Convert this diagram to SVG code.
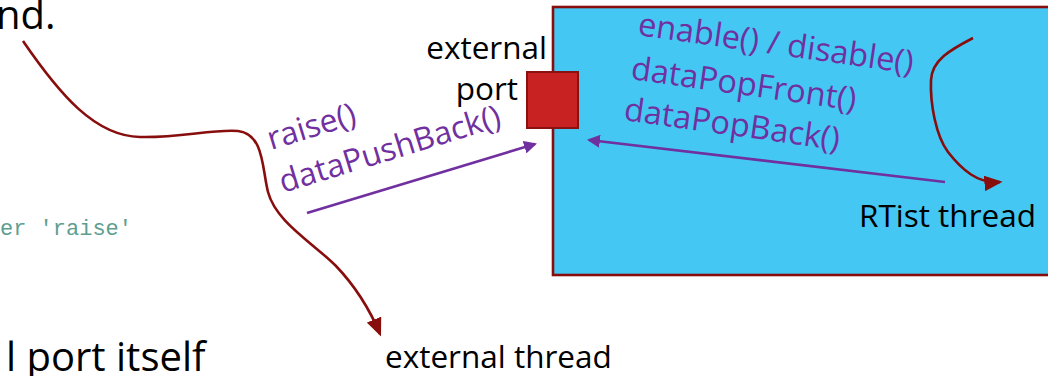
<svg xmlns="http://www.w3.org/2000/svg" width="1048" height="376" viewBox="0 0 1048 376">
  <style>
    .sans { font-family: "Open Sans", "Noto Sans", "Liberation Sans", sans-serif; }
    .black { fill: #000000; }
    .purple { fill: #7030A0; }
    .code { font-family: "Liberation Mono", "DejaVu Sans Mono", monospace; fill: #5E9E90; }
    .thread { fill: none; stroke: #880E0E; stroke-width: 2.6; }
    .call { fill: none; stroke: #7030A0; stroke-width: 2.6; }
  </style>
  <defs>
    <marker id="redHead" markerWidth="7" markerHeight="6" refX="6" refY="3" orient="auto" markerUnits="strokeWidth">
      <path d="M0,0 L7,3 L0,6 Z" fill="#880E0E"/>
    </marker>
    <marker id="purpleHead" markerWidth="5" markerHeight="5" refX="4.2" refY="2.5" orient="auto" markerUnits="strokeWidth">
      <path d="M0,0 L5,2.5 L0,5 Z" fill="#7030A0"/>
    </marker>
  </defs>

  <rect width="1048" height="376" fill="#FFFFFF"/>

  <!-- background slide texts -->
  <g id="slide-text">
    <text class="sans black" x="-4" y="29" font-size="40">nd.</text>
    <text class="sans black" x="6" y="371" font-size="40">l port itself</text>
    <text class="code" x="0" y="235" font-size="22">er 'raise'</text>
  </g>

  <!-- RTist thread box -->
  <g id="rtist-box">
    <rect x="553" y="7" width="510" height="268" fill="#45C7F3" stroke="#880E0E" stroke-width="2.6"/>
    <text class="sans black" x="1036" y="227" font-size="31.5" text-anchor="end">RTist thread</text>
  </g>

  <!-- external port -->
  <g id="external-port">
    <rect x="527" y="72" width="51" height="56" fill="#C82222" stroke="#8B1010" stroke-width="2"/>
    <text class="sans black" x="547" y="59" font-size="31.5" text-anchor="end">external</text>
    <text class="sans black" x="518" y="100" font-size="31.5" text-anchor="end">port</text>
  </g>

  <!-- external thread label -->
  <g id="external-thread">
    <text class="sans black" x="385" y="368" font-size="31.5">external thread</text>
  </g>

  <!-- call labels -->
  <g id="push-labels">
    <text class="sans purple" font-size="32" transform="translate(271,150) rotate(-17)">raise()</text>
    <text class="sans purple" font-size="32" transform="translate(283,193) rotate(-17)">dataPushBack()</text>
  </g>
  <g id="pop-labels">
    <text class="sans purple" font-size="32.5" transform="translate(637,35) rotate(8)">enable() / disable()</text>
    <text class="sans purple" font-size="32.5" transform="translate(630,79) rotate(8)">dataPopFront()</text>
    <text class="sans purple" font-size="32.5" transform="translate(623,120) rotate(8)">dataPopBack()</text>
  </g>

  <!-- connectors -->
  <g id="connectors">
    <path class="thread" d="M23,41 C60,95 95,136 140,137 C180,138 212,129 238,131 C264,134 262,168 268,192 C276,222 312,242 336,266 C356,287 370,310 380,334" marker-end="url(#redHead)"/>
    <path class="thread" d="M973,38 C950,50 932,60 931,80 C930,104 936,136 948,152 C962,170 978,184 1000,182" marker-end="url(#redHead)"/>
    <path class="call" d="M307,213 L535,144" marker-end="url(#purpleHead)"/>
    <path class="call" d="M945,182 L589,140" marker-end="url(#purpleHead)"/>
  </g>
</svg>
